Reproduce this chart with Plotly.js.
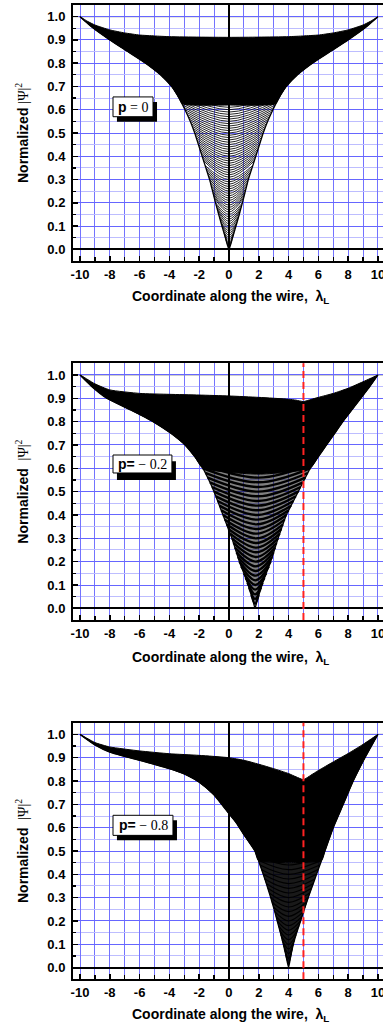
<!DOCTYPE html>
<html>
<head>
<meta charset="utf-8">
<script src="https://cdn.plot.ly/plotly-3.0.1.min.js"></script>
<style>html,body{margin:0;padding:0;background:#fff;}#chart{width:383px;height:1026px;}</style>
</head>
<body>
<div id="chart"></div>
<script>
// ---------- Axis ticks ----------
const xTickVals = [-10,-8,-6,-4,-2,0,2,4,6,8,10];
const xTickText = ['-10','-8','-6','-4','-2','0','2','4','6','8','10'];

// ---------- Panel 1 (p = 0) ----------
const p1UpperX = [-10,-9.5,-9,-8,-7,-6,-5,-4,-2,0,2,4,5,6,7,8,9,9.5,10];
const p1UpperY = [1.0,0.98,0.964,0.943,0.93,0.921,0.917,0.914,0.912,0.911,0.912,0.914,0.917,0.921,0.93,0.943,0.964,0.98,1.0];
const p1LowerX = [-10,-9.1,-8.0,-6.8,-5.6,-4.6,-3.85,-3.35,-2.95,-2.6,-2.3,-2.05,-1.8,-1.55,-1.3,-1.1,-0.9,-0.69,-0.47,-0.24,0,0.24,0.47,0.69,0.9,1.1,1.3,1.55,1.8,2.05,2.3,2.6,2.95,3.35,3.85,4.6,5.6,6.8,8.0,9.1,10];
const p1LowerY = [1.0,0.95,0.9,0.85,0.8,0.75,0.7,0.65,0.6,0.55,0.5,0.45,0.4,0.35,0.3,0.25,0.2,0.15,0.1,0.05,0,0.05,0.1,0.15,0.2,0.25,0.3,0.35,0.4,0.45,0.5,0.55,0.6,0.65,0.7,0.75,0.8,0.85,0.9,0.95,1.0];
const p1EdgeX = [10,9.1,8.0,6.8,5.6,4.6,3.85,3.35,3.13,0,-3.13,-3.35,-3.85,-4.6,-5.6,-6.8,-8.0,-9.1,-10];
const p1EdgeY = [1.0,0.95,0.9,0.85,0.8,0.75,0.7,0.65,0.625,0.62,0.625,0.65,0.7,0.75,0.8,0.85,0.9,0.95,1.0];
const p1Center = 0;
const p1ArcMin  = [0.01,0.02,0.03,0.04,0.05,0.06,0.07,0.08,0.09,0.10,0.11,0.12,0.13,0.14,0.15,0.16,0.17,0.18,0.19,0.20,
                   0.21,0.22,0.23,0.24,0.25,0.26,0.27,0.28,0.29,0.30,0.31,0.32,0.33,0.34,0.35,0.36,0.37,0.38,0.39,0.40,
                   0.41,0.42,0.43,0.44,0.45,0.46,0.47,0.48,0.49,0.50,0.51,0.52,0.53,0.54,0.55,0.56,0.57,0.58,0.59,0.60,0.61];
const p1ArcEndY = [0.04,0.05,0.06,0.07,0.08,0.10,0.11,0.12,0.135,0.145,0.16,0.17,0.18,0.19,0.20,0.22,0.23,0.24,0.25,0.26,
                   0.27,0.28,0.29,0.30,0.31,0.32,0.33,0.34,0.35,0.36,0.38,0.39,0.40,0.41,0.42,0.43,0.44,0.45,0.46,0.47,
                   0.48,0.49,0.50,0.51,0.52,0.53,0.54,0.55,0.56,0.57,0.58,0.59,0.60,0.61,0.62,0.63,0.64,0.65,0.66,0.67,0.68];
const p1ArcHalf = [0.19,0.24,0.29,0.33,0.38,0.47,0.51,0.56,0.62,0.67,0.73,0.77,0.82,0.86,0.90,0.98,1.02,1.06,1.10,1.14,
                   1.18,1.22,1.26,1.30,1.35,1.40,1.45,1.50,1.55,1.60,1.70,1.75,1.80,1.85,1.90,1.95,2.00,2.05,2.10,2.15,
                   2.20,2.25,2.30,2.36,2.42,2.48,2.54,2.60,2.67,2.74,2.81,2.88,2.95,3.03,3.10,3.18,3.27,3.35,3.45,3.55,3.65];

// ---------- Panel 2 (p = -0.2) ----------
const p2UpperX = [-10,-9,-8,-6,-4,-2,0,2,4,4.5,5,5.5,6,7,8,9,10];
const p2UpperY = [1.0,0.962,0.936,0.921,0.917,0.914,0.91,0.904,0.896,0.892,0.886,0.895,0.904,0.921,0.943,0.971,1.0];
const p2LowerX = [-10,-9.2,-8.2,-6.6,-5.1,-3.9,-2.95,-2.3,-1.75,-1.35,-1.0,-0.7,-0.4,-0.1,0.2,0.45,0.7,1.0,1.3,1.55,1.75,1.95,2.2,2.5,2.8,3.05,3.3,3.57,3.85,4.25,4.65,5.05,5.45,6.0,6.55,7.1,7.65,8.25,8.85,9.45,10];
const p2LowerY = [1.0,0.95,0.9,0.85,0.8,0.75,0.7,0.65,0.6,0.55,0.5,0.45,0.4,0.35,0.3,0.25,0.2,0.15,0.1,0.05,0,0.05,0.1,0.15,0.2,0.25,0.3,0.35,0.4,0.45,0.5,0.55,0.6,0.65,0.7,0.75,0.8,0.85,0.9,0.95,1.0];
const p2EdgeX = [10,9.45,8.85,8.25,7.65,7.1,6.55,6.0,5.45,2.0,-1.75,-2.3,-2.95,-3.9,-5.1,-6.6,-8.2,-9.2,-10];
const p2EdgeY = [1.0,0.95,0.9,0.85,0.8,0.75,0.7,0.65,0.6,0.575,0.6,0.65,0.7,0.75,0.8,0.85,0.9,0.95,1.0];
const p2ArcMin  = [0.02,0.04,0.06,0.08,0.10,0.12,0.14,0.16,0.18,0.20,0.22,0.24,0.26,0.28,0.30,0.32,0.34,0.36,0.38,0.40,0.42,0.44,0.46,0.48,0.50,0.52,0.54,0.56];
const p2ArcMinX = [1.75,1.75,1.76,1.76,1.77,1.78,1.79,1.80,1.81,1.82,1.83,1.84,1.85,1.86,1.87,1.88,1.89,1.90,1.91,1.92,1.93,1.94,1.95,1.96,1.97,1.98,1.99,2.0];
const p2ArcEndY = [0.06,0.09,0.11,0.13,0.15,0.18,0.20,0.22,0.24,0.26,0.28,0.30,0.32,0.34,0.36,0.38,0.40,0.42,0.44,0.46,0.48,0.50,0.52,0.54,0.56,0.58,0.60,0.62];
const p2ArcLX = [1.50,1.35,1.24,1.12,1.00,0.82,0.70,0.60,0.50,0.40,0.30,0.20,0.08,-0.04,-0.16,-0.28,-0.40,-0.52,-0.64,-0.76,-0.88,-1.00,-1.14,-1.28,-1.43,-1.59,-1.75,-1.97];
const p2ArcRX = [2.00,2.15,2.26,2.38,2.50,2.68,2.80,2.90,3.00,3.10,3.20,3.30,3.41,3.52,3.63,3.74,3.85,4.01,4.17,4.33,4.49,4.65,4.81,4.97,5.13,5.29,5.45,5.67];

// ---------- Panel 3 (p = -0.8) ----------
const p3UpperX = [-10,-9,-8,-6,-4,-2,0,1,2,3,4,4.5,5,5.5,6,7,8,9,10];
const p3UpperY = [1.0,0.965,0.946,0.929,0.917,0.91,0.9,0.889,0.872,0.853,0.832,0.818,0.806,0.825,0.845,0.882,0.918,0.957,1.0];
const p3LowerX = [-10,-9,-8,-6,-4,-3,-2,-1,0,0.5,1,1.74,2.03,2.3,2.56,2.8,3.03,3.24,3.45,3.65,3.83,4.0,4.15,4.32,4.55,4.81,5.06,5.32,5.6,5.88,6.16,6.44,7.0,7.67,8.34,9.13,10];
const p3LowerY = [1.0,0.955,0.924,0.889,0.853,0.83,0.795,0.74,0.66,0.62,0.57,0.5,0.45,0.4,0.35,0.3,0.25,0.2,0.15,0.1,0.05,0,0.05,0.1,0.15,0.2,0.25,0.3,0.35,0.4,0.45,0.5,0.6,0.7,0.8,0.9,1.0];
const p3EdgeX = [10,9.13,8.34,7.67,7.0,6.44,6.22,4.0,1.97,1.74,1,0.5,0,-1,-2,-3,-4,-6,-8,-9,-10];
const p3EdgeY = [1.0,0.9,0.8,0.7,0.6,0.5,0.46,0.45,0.46,0.5,0.57,0.62,0.66,0.74,0.795,0.83,0.853,0.889,0.924,0.955,1.0];
const p3ArcMin  = [0.02,0.04,0.06,0.08,0.10,0.12,0.14,0.16,0.18,0.20,0.22,0.24,0.26,0.28,0.30,0.32,0.34,0.36,0.38,0.40,0.42,0.44];
const p3ArcMinX = [4.0,4.0,4.0,4.0,4.0,4.0,4.0,4.0,4.0,4.0,4.0,4.0,4.0,4.0,4.0,4.0,4.0,4.0,4.0,4.0,4.0,4.0];
const p3ArcEndY = [0.06,0.08,0.10,0.12,0.14,0.16,0.18,0.20,0.22,0.24,0.26,0.28,0.30,0.32,0.34,0.36,0.38,0.40,0.42,0.44,0.46,0.48];
const p3ArcLX = [3.79,3.72,3.65,3.57,3.49,3.41,3.32,3.24,3.16,3.07,2.98,2.89,2.80,2.70,2.61,2.51,2.40,2.30,2.19,2.08,1.97,1.86];
const p3ArcRX = [4.18,4.25,4.32,4.41,4.50,4.60,4.71,4.81,4.91,5.01,5.11,5.22,5.32,5.43,5.54,5.66,5.77,5.88,5.99,6.10,6.22,6.33];

// ---------- Text ----------
const SERIF = 'Liberation Serif';
const panelLabels = ['<b>p</b><span style="font-family:' + SERIF + '"> = 0</span>',
                     '<b>p=</b><span style="font-family:' + SERIF + '"> \u2212 0.2</span>',
                     '<b>p=</b><span style="font-family:' + SERIF + '"> \u2212 0.8</span>'];
const xTitle = '<b>Coordinate along the wire,  \u03bb<sub>L</sub></b>';
const yTitles = ['<b>Normalized</b> <span style="font-family:' + SERIF + '">|\u03a8|<sup>2</sup></span>',
                 '<b>Normalized</b>  <span style="font-family:' + SERIF + '">|\u03a8|<sup>2</sup></span>',
                 '<b>Normalized</b>  <span style="font-family:' + SERIF + '">|\u03a8|<sup>2</sup></span>'];
const markerX = 5; // red dashed line position (panels 2, 3)

const SANS = 'Liberation Sans, Arial, Helvetica, sans-serif';

function arcTrace(lx, mx, rx, m, ey, xa, ya, w) {
  const x = [], y = [];
  for (let i = 0; i < m.length; i++) {
    x.push(lx[i], mx[i], rx[i], null);
    y.push(ey[i], m[i], ey[i], null);
  }
  return {type:'scatter', mode:'lines', x, y, xaxis:xa, yaxis:ya, connectgaps:false,
          line:{color:'black', width:w, shape:'spline', smoothing:1.0}, hoverinfo:'skip', showlegend:false};
}
function fillTrace(ux, uy, ex, ey, xa, ya) {
  return {type:'scatter', mode:'lines', x:ux.concat(ex), y:uy.concat(ey), xaxis:xa, yaxis:ya,
          fill:'toself', fillcolor:'black', line:{color:'black', width:1, shape:'spline', smoothing:0.5},
          hoverinfo:'skip', showlegend:false};
}
function envTrace(lx, ly, xa, ya) {
  return {type:'scatter', mode:'lines', x:lx, y:ly, xaxis:xa, yaxis:ya,
          line:{color:'black', width:1.3, shape:'spline', smoothing:0.5}, hoverinfo:'skip', showlegend:false};
}
function underlay(lx, ly, ex, ey, xa, ya, alpha) {
  const x = [], y = [];
  const xl = ex.filter((v, i) => ey[i] < 0.7);
  const lo = Math.min.apply(null, xl), hi = Math.max.apply(null, xl);
  for (let i = 0; i < lx.length; i++) {
    if (lx[i] >= lo && lx[i] <= hi) { x.push(lx[i]); y.push(ly[i]); }
  }
  for (let i = 0; i < ex.length; i++) {
    if (ex[i] >= lo && ex[i] <= hi && ey[i] < 0.7) { x.push(ex[i]); y.push(ey[i]); }
  }
  return {type:'scatter', mode:'lines', x, y, xaxis:xa, yaxis:ya, fill:'toself',
          fillcolor:'rgba(0,0,0,' + alpha + ')', line:{width:0}, hoverinfo:'skip', showlegend:false};
}

const traces = [];
traces.push(arcTrace(p1ArcHalf.map(h => p1Center - h), p1ArcHalf.map(() => p1Center), p1ArcHalf.map(h => p1Center + h),
                     p1ArcMin, p1ArcEndY, 'x', 'y', 0.85));
traces.push(envTrace(p1LowerX, p1LowerY, 'x', 'y'));
traces.push(fillTrace(p1UpperX, p1UpperY, p1EdgeX, p1EdgeY, 'x', 'y'));

traces.push(underlay(p2LowerX, p2LowerY, p2EdgeX, p2EdgeY, 'x2', 'y2', 0.5));
traces.push(arcTrace(p2ArcLX, p2ArcMinX, p2ArcRX, p2ArcMin, p2ArcEndY, 'x2', 'y2', 2.4));
traces.push(envTrace(p2LowerX, p2LowerY, 'x2', 'y2'));
traces.push(fillTrace(p2UpperX, p2UpperY, p2EdgeX, p2EdgeY, 'x2', 'y2'));

traces.push(underlay(p3LowerX, p3LowerY, p3EdgeX, p3EdgeY, 'x3', 'y3', 0.9));
traces.push(arcTrace(p3ArcLX, p3ArcMinX, p3ArcRX, p3ArcMin, p3ArcEndY, 'x3', 'y3', 1.2));
traces.push(envTrace(p3LowerX, p3LowerY, 'x3', 'y3'));
traces.push(fillTrace(p3UpperX, p3UpperY, p3EdgeX, p3EdgeY, 'x3', 'y3'));

// ---------- Layout ----------
const H = 1026, W = 383, ML = 73;
const PW = W - ML;
const panelsPx = [[5, 261], [363.3, 620], [722.7, 979.3]];
const titleY = [297, 658, 1015];

function xAxis(anchor) {
  return {domain:[0,1], anchor, range:[-10.47, 10.34], tickmode:'array', tickvals:xTickVals, ticktext:xTickText,
    ticks:'inside', ticklen:5, tickwidth:1.5, tickcolor:'black', ticklabelstandoff:0, ticklabeloverflow:'allow',
    showline:true, linewidth:2, linecolor:'black', mirror:true,
    showgrid:true, gridcolor:'#7373ff', gridwidth:1,
    zeroline:true, zerolinecolor:'black', zerolinewidth:1.6,
    tickfont:{family:SANS, size:13, color:'black', weight:700},
    minor:{dtick:1, tick0:0, showgrid:true, gridcolor:'#7373ff', gridwidth:1, ticks:'inside', ticklen:4, tickcolor:'black', tickwidth:1.2},
    fixedrange:true};
}
function yAxis(anchor, top, bot) {
  return {domain:[1 - bot / H, 1 - top / H], anchor, range:[-0.05, 1.05], dtick:0.1, tick0:0, tickformat:'.1f',
    ticks:'inside', ticklen:5, tickwidth:1.5, tickcolor:'black', ticklabelstandoff:3,
    showline:true, linewidth:2, linecolor:'black', mirror:false,
    showgrid:true, gridcolor:'#6666ff', gridwidth:1,
    zeroline:true, zerolinecolor:'black', zerolinewidth:2,
    tickfont:{family:SANS, size:13, color:'black', weight:700},
    minor:{dtick:0.05, showgrid:true, gridcolor:'#bdbdff', gridwidth:1, ticks:'inside', ticklen:3, tickcolor:'black', tickwidth:1.2},
    fixedrange:true};
}

const layout = {
  width:W, height:H, margin:{l:ML, r:0, t:0, b:0}, paper_bgcolor:'white', plot_bgcolor:'white', showlegend:false,
  xaxis:xAxis('y'), yaxis:yAxis('x', panelsPx[0][0], panelsPx[0][1]),
  xaxis2:xAxis('y2'), yaxis2:yAxis('x2', panelsPx[1][0], panelsPx[1][1]),
  xaxis3:xAxis('y3'), yaxis3:yAxis('x3', panelsPx[2][0], panelsPx[2][1]),
  shapes:[], annotations:[]
};

const boxes = [
  {box:[-7.785,-5.10,0.57,0.655], sh:[-7.52,-4.83,0.548,0.633], tx:-6.44, ty:0.612},
  {box:[-7.785,-3.83,0.58,0.657], sh:[-7.52,-3.56,0.55,0.63], tx:-5.80, ty:0.618},
  {box:[-7.785,-3.76,0.567,0.653], sh:[-7.52,-3.49,0.546,0.632], tx:-5.77, ty:0.61}
];
const suffix = ['', '2', '3'];
for (let i = 0; i < 3; i++) {
  const xa = 'x' + suffix[i], ya = 'y' + suffix[i];
  layout.shapes.push({type:'line', layer:'below', xref:xa + ' domain', yref:ya, x0:0, x1:1, y0:1, y1:1,
                      line:{color:'#9a9a9a', width:1.2}});
  if (i > 0) {
    layout.shapes.push({type:'line', layer:'above', xref:xa, yref:ya + ' domain', x0:markerX, x1:markerX, y0:0, y1:1,
                        line:{color:'#ff2222', width:2, dash:'7px,4px'}});
  }
  const b = boxes[i];
  layout.shapes.push({type:'rect', layer:'above', xref:xa, yref:ya, x0:b.sh[0], x1:b.sh[1], y0:b.sh[2], y1:b.sh[3],
                      fillcolor:'black', line:{width:0}});
  layout.shapes.push({type:'rect', layer:'above', xref:xa, yref:ya, x0:b.box[0], x1:b.box[1], y0:b.box[2], y1:b.box[3],
                      fillcolor:'white', line:{color:'black', width:1}});
  layout.annotations.push({xref:xa, yref:ya, x:b.tx, y:b.ty, text:panelLabels[i], showarrow:false,
                           xanchor:'center', yanchor:'middle', font:{family:SANS, size:14, color:'black'}});
  layout.annotations.push({xref:'paper', yref:'paper', x:(230 - ML) / PW, y:1 - titleY[i] / H, text:xTitle, showarrow:false,
                           xanchor:'center', yanchor:'middle', font:{family:SANS, size:14, color:'black'}});
  const cy = (panelsPx[i][0] + panelsPx[i][1]) / 2;
  layout.annotations.push({xref:'paper', yref:'paper', x:(22 - ML) / PW, y:1 - cy / H, text:yTitles[i], textangle:-90, showarrow:false,
                           xanchor:'center', yanchor:'middle', font:{family:SANS, size:14, color:'black'}});
}

Plotly.newPlot('chart', traces, layout, {staticPlot:true, displayModeBar:false});
</script>
</body>
</html>
